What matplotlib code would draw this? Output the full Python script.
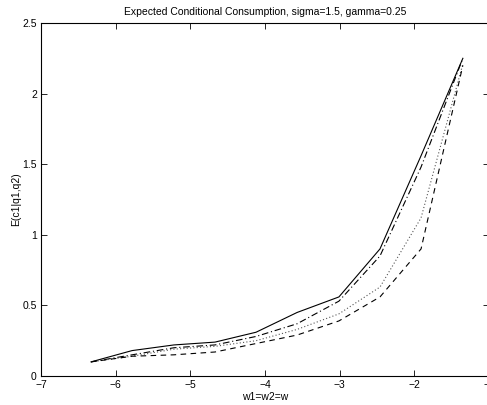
import matplotlib
matplotlib.use("Agg")
import matplotlib.pyplot as plt

plt.rcParams['font.family'] = ['Liberation Sans', 'DejaVu Sans']

# wealth grid (log scale) and expected consumption for four cases
w = [-6.33, -5.78, -5.22, -4.67, -4.12, -3.57, -3.01, -2.46, -1.91, -1.35]
c_solid = [0.10, 0.18, 0.22, 0.24, 0.31, 0.45, 0.56, 0.90, 1.56, 2.25]
c_dashdot = [0.10, 0.15, 0.20, 0.22, 0.28, 0.37, 0.53, 0.85, 1.48, 2.25]
c_dotted = [0.10, 0.14, 0.19, 0.21, 0.25, 0.33, 0.44, 0.63, 1.12, 2.21]
c_dashed = [0.10, 0.14, 0.15, 0.17, 0.23, 0.29, 0.39, 0.56, 0.90, 2.20]

fig = plt.figure(figsize=(4.87, 4.05), dpi=100)
ax = fig.add_axes([41 / 487, 29 / 405, 448 / 487, 353 / 405])

ax.plot(w, c_solid, color='black', lw=0.8, ls='-')
ax.plot(w, c_dashdot, color='black', lw=0.8, ls=(0, (6, 2.5, 1, 2.5)))
ax.plot(w, c_dotted, color='#555555', lw=0.8, ls=(0, (1, 2)))
ax.plot(w, c_dashed, color='black', lw=0.8, ls=(0, (5, 4)))

ax.set_xlim(-7, -1)
ax.set_ylim(0, 2.5)
ax.set_xticks([-7, -6, -5, -4, -3, -2, -1])
ax.set_yticks([0, 0.5, 1, 1.5, 2, 2.5])
ax.set_yticklabels(['0', '0.5', '1', '1.5', '2', '2.5'])
ax.tick_params(direction='in', top=True, right=True, length=4, width=0.6,
               labelsize=7.5, pad=3)
for s in ax.spines.values():
    s.set_linewidth(0.8)

ax.set_title('Expected Conditional Consumption, sigma=1.5, gamma=0.25',
             fontsize=7.5, pad=6)
ax.set_xlabel('w1=w2=w', fontsize=7.5, labelpad=1)
ax.set_ylabel('E(c1|q1,q2)', fontsize=7.5, labelpad=1)

fig.savefig('out.png', dpi=100)
